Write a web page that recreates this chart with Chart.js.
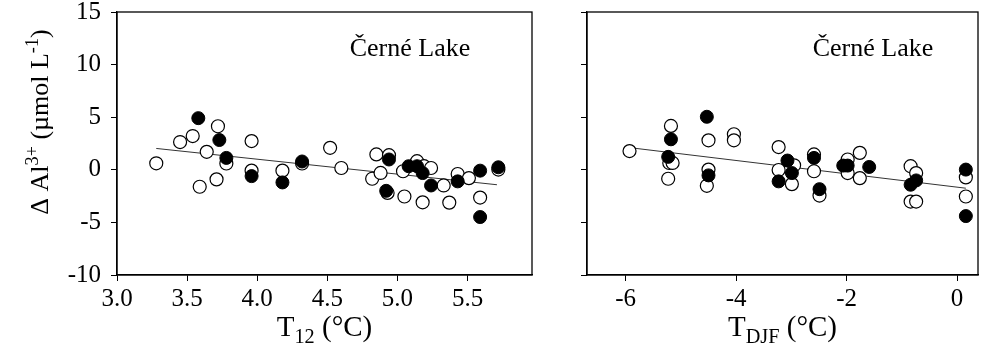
<!DOCTYPE html>
<html>
<head>
<meta charset="utf-8">
<script src="https://cdn.jsdelivr.net/npm/chart.js@4.4.0/dist/chart.umd.min.js"></script>
<style>
  body { margin: 0; background: #fff; }
  #wrap { position: relative; width: 990px; height: 362px; }
  #c1 { position: absolute; left: 0; top: 0; }
  #c2 { position: absolute; left: 540px; top: 0; }
</style>
</head>
<body>
<div id="wrap">
  <canvas id="c1" width="540" height="362"></canvas>
  <canvas id="c2" width="450" height="362"></canvas>
</div>
<script>
// T12 panel
var t12OpenX = [3.28, 3.45, 3.54, 3.59, 3.64, 3.71, 3.72, 3.78, 3.96, 3.96, 4.18, 4.32, 4.52, 4.60, 4.82, 4.85, 4.88, 4.93, 4.94, 5.04, 5.05, 5.14, 5.18, 5.19, 5.24, 5.33, 5.37, 5.43, 5.51, 5.59, 5.72];
var t12OpenY = [0.62, 2.64, 3.21, -1.61, 1.71, -0.91, 4.14, 0.6, 2.73, -0.08, -0.08, 0.6, 2.09, 0.17, -0.85, 1.46, -0.3, -2.2, 1.39, -0.14, -2.54, 0.82, -3.09, 0.34, 0.17, -1.49, -3.12, -0.4, -0.79, -2.64, 0.02];
var t12FillX = [3.58, 3.73, 3.78, 3.96, 4.18, 4.32, 4.92, 4.94, 5.08, 5.14, 5.18, 5.24, 5.43, 5.59, 5.59, 5.72];
var t12FillY = [4.91, 2.83, 1.13, -0.6, -1.2, 0.79, -2.0, 0.98, 0.34, 0.34, -0.31, -1.49, -1.1, -0.08, -4.49, 0.24];
var t12LineX = [3.28, 5.71];
var t12LineY = [2.03, -1.42];
var t12Ticks = [3.0, 3.5, 4.0, 4.5, 5.0, 5.5];

// TDJF panel
var djfOpenX = [-5.93, -5.18, -5.21, -5.15, -5.23, -4.5, -4.5, -4.53, -4.04, -4.04, -3.23, -3.23, -2.95, -2.99, -2.59, -2.59, -2.49, -1.98, -1.98, -1.76, -1.76, -0.84, -0.74, -0.84, -0.74, 0.16, 0.16];
var djfOpenY = [1.78, 4.17, 0.65, 0.65, -0.85, 2.8, 0.02, -1.52, 3.38, 2.8, 2.16, -0.02, 0.43, -1.36, 1.46, -0.14, -2.45, 0.98, -0.31, 1.61, -0.79, 0.34, -0.31, -3.02, -3.02, -0.72, -2.54];
var djfFillX = [-5.18, -5.23, -4.53, -4.5, -3.23, -3.07, -2.99, -2.59, -2.49, -2.06, -1.98, -1.59, -0.74, -0.84, 0.16, 0.16];
var djfFillY = [2.9, 1.23, 5.04, -0.53, -1.1, 0.88, -0.31, 1.13, -1.84, 0.4, 0.4, 0.27, -1.01, -1.42, 0.02, -4.4];
var djfLineX = [-5.9, 0.16];
var djfLineY = [2.09, -1.75];
var djfTicks = [-6, -4, -2, 0];

var yTicks = [-10, -5, 0, 5, 10, 15];

var FONT = "'Liberation Serif', 'DejaVu Serif', serif";

function pts(xs, ys) {
    return xs.map(function (x, i) { return { x: x, y: ys[i] }; });
}

// draws a run of text parts, some raised or lowered
function drawRich(ctx, parts, x, y, size, align) {
    var total = 0;
    parts.forEach(function (p) {
        ctx.font = (p.sub || p.sup ? size * 0.7 : size) + "px " + FONT;
        p.w = ctx.measureText(p.t).width;
        total += p.w;
    });
    var cx = align === "center" ? x - total / 2 : x;
    ctx.textAlign = "left";
    ctx.textBaseline = "alphabetic";
    parts.forEach(function (p) {
        ctx.font = (p.sub || p.sup ? size * 0.7 : size) + "px " + FONT;
        var dy = p.sub ? size * 0.25 : (p.sup ? -size * 0.4 : 0);
        ctx.fillText(p.t, cx, y + dy);
        cx += p.w;
    });
}

function makePanel(id, opts) {
    var framePlugin = {
        id: "frame",
        afterDraw: function (chart) {
            var ctx = chart.ctx;
            var a = chart.chartArea;
            ctx.save();
            ctx.strokeStyle = "#000";
            ctx.lineWidth = 1.3;
            ctx.strokeRect(a.left, a.top, a.right - a.left, a.bottom - a.top);
            ctx.fillStyle = "#000";
            ctx.font = "26px " + FONT;
            ctx.textAlign = "center";
            ctx.textBaseline = "alphabetic";
            ctx.fillText("Černé Lake", opts.labelX, 56);
            drawRich(ctx, opts.xTitle, (a.left + a.right) / 2, 336, 29, "center");
            if (opts.yTitle) {
                ctx.translate(48, 122);
                ctx.rotate(-Math.PI / 2);
                drawRich(ctx, opts.yTitle, 0, 0, 26, "center");
            }
            ctx.restore();
        }
    };

    return new Chart(document.getElementById(id).getContext("2d"), {
        type: "scatter",
        data: {
            datasets: [{
                label: "filled",
                data: pts(opts.fillX, opts.fillY),
                pointRadius: 6.5,
                pointBackgroundColor: "#000",
                pointBorderColor: "#000",
                pointBorderWidth: 1,
                order: 1
            }, {
                label: "open",
                data: pts(opts.openX, opts.openY),
                pointRadius: 6.5,
                pointBackgroundColor: "#fff",
                pointBorderColor: "#000",
                pointBorderWidth: 1.2,
                order: 2
            }, {
                type: "line",
                label: "fit",
                data: pts(opts.lineX, opts.lineY),
                borderColor: "#333",
                borderWidth: 1,
                pointRadius: 0,
                fill: false,
                order: 3
            }]
        },
        options: {
            responsive: false,
            animation: false,
            events: [],
            layout: { padding: { left: 0, right: opts.padRight, top: 12, bottom: 0 } },
            plugins: { legend: { display: false }, tooltip: { enabled: false } },
            scales: {
                x: {
                    type: "linear",
                    min: opts.xMin,
                    max: opts.xMax,
                    afterBuildTicks: function (axis) {
                        axis.ticks = opts.xTicks.map(function (v) { return { value: v }; });
                    },
                    afterFit: function (axis) {
                        axis.height = 87;
                        axis.paddingLeft = 0;
                        axis.paddingRight = 0;
                    },
                    grid: { drawOnChartArea: false, drawTicks: true, tickLength: 6, color: "#000", tickColor: "#000" },
                    border: { display: true, color: "#000", width: 1.3 },
                    ticks: {
                        color: "#000",
                        padding: 3,
                        maxRotation: 0,
                        font: { family: FONT, size: 25 },
                        callback: opts.xFormat
                    }
                },
                y: {
                    type: "linear",
                    min: -10,
                    max: 15,
                    afterBuildTicks: function (axis) {
                        axis.ticks = yTicks.map(function (v) { return { value: v }; });
                    },
                    afterFit: function (axis) {
                        axis.width = opts.yWidth;
                        axis.paddingTop = 0;
                        axis.paddingBottom = 0;
                    },
                    grid: { drawOnChartArea: false, drawTicks: true, tickLength: 6, color: "#000", tickColor: "#000" },
                    border: { display: true, color: "#000", width: 1.3 },
                    ticks: {
                        display: opts.showYLabels,
                        color: "#000",
                        padding: 10,
                        font: { family: FONT, size: 25 }
                    }
                }
            }
        },
        plugins: [framePlugin]
    });
}

makePanel("c1", {
    openX: t12OpenX, openY: t12OpenY, fillX: t12FillX, fillY: t12FillY,
    lineX: t12LineX, lineY: t12LineY,
    xMin: 3.0, xMax: 5.96, xTicks: t12Ticks,
    xFormat: function (v) { return v.toFixed(1); },
    yWidth: 117, padRight: 8, showYLabels: true, labelX: 410,
    xTitle: [{ t: "T" }, { t: "12", sub: true }, { t: " (°C)" }],
    yTitle: [{ t: "Δ Al" }, { t: "3+", sup: true }, { t: " (µmol L" }, { t: "-1", sup: true }, { t: ")" }]
});

makePanel("c2", {
    openX: djfOpenX, openY: djfOpenY, fillX: djfFillX, fillY: djfFillY,
    lineX: djfLineX, lineY: djfLineY,
    xMin: -6.7, xMax: 0.38, xTicks: djfTicks,
    xFormat: function (v) { return String(v); },
    yWidth: 47, padRight: 12, showYLabels: false, labelX: 333,
    xTitle: [{ t: "T" }, { t: "DJF", sub: true }, { t: " (°C)" }],
    yTitle: null
});
</script>
</body>
</html>
